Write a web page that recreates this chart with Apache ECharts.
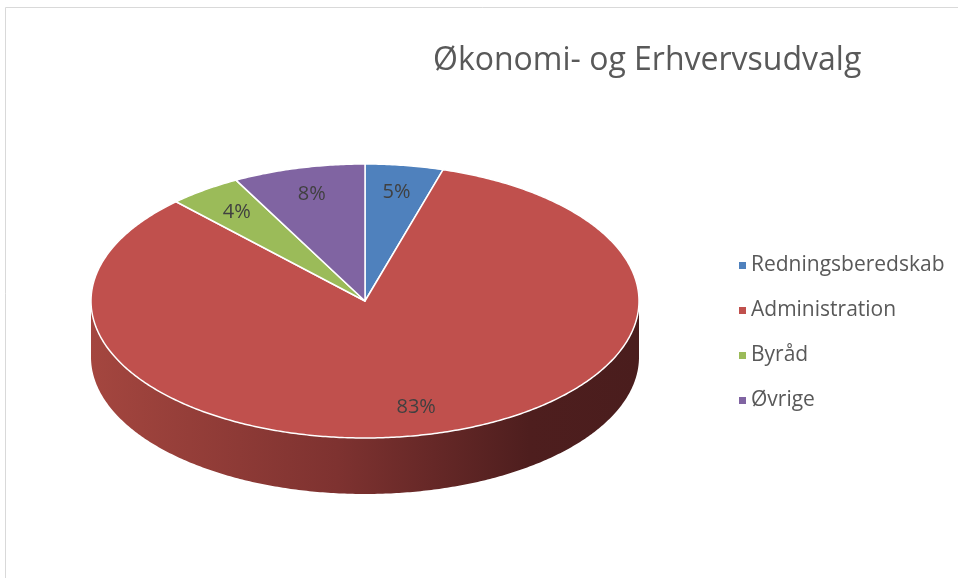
<!DOCTYPE html>
<html>
<head>
<meta charset="utf-8">
<script src="https://cdn.jsdelivr.net/npm/echarts@6/dist/echarts.min.js"></script>
<style>
  html, body { margin: 0; padding: 0; background: #fff; }
  #chart { width: 958px; height: 578px; }
</style>
</head>
<body>
<div id="chart"></div>
<script>
const titleText = "Økonomi- og Erhvervsudvalg";
const categories = ["Redningsberedskab", "Administration", "Byråd", "Øvrige"];
const values = [4.6, 83.3, 4.3, 7.8];
const colors = ["#4f81bd", "#c0504d", "#9bbb59", "#8064a2"];

// pie geometry (ellipse seen from above at an angle)
const CX = 365, CY = 301, RX = 274, RY = 137, DEPTH = 56;
const FONT = "Open Sans";

const total = values.reduce((a, b) => a + b, 0);

const pt = (t, dy) => [CX + RX * Math.sin(t), CY - RY * Math.cos(t) + (dy || 0)];

const arc = (a0, a1, dy) => {
  const n = Math.max(2, Math.ceil((a1 - a0) / 0.01));
  const out = [];
  for (let k = 0; k <= n; k++) out.push(pt(a0 + (a1 - a0) * k / n, dy));
  return out;
};

const makeRender = (i) => (params, api) => {
  const v = api.value(0);
  const before = values.slice(0, i).reduce((a, b) => a + b, 0);
  const a0 = before / total * Math.PI * 2;
  const a1 = a0 + v / total * Math.PI * 2;
  const children = [];

  // side wall, only the front half is visible
  const s = Math.max(a0, Math.PI / 2), e = Math.min(a1, Math.PI * 3 / 2);
  if (e > s) {
    children.push({
      type: "polygon",
      z2: 1,
      shape: { points: arc(s, e, 0).concat(arc(s, e, DEPTH).reverse()) },
      style: {
        fill: new echarts.graphic.LinearGradient(0, 0, 1, 0, [
          { offset: 0, color: "#a4463f" },
          { offset: 0.45, color: "#7e3230" },
          { offset: 0.8, color: "#4e1e1e" },
          { offset: 1, color: "#4a1d1d" },
        ]),
      },
    });
  }

  // top face
  children.push({
    type: "polygon",
    z2: 10,
    shape: { points: [[CX, CY]].concat(arc(a0, a1, 0)) },
    style: { fill: colors[i], stroke: "#fff", lineWidth: 1.5, lineJoin: "round" },
  });

  // percent label
  const m = (a0 + a1) / 2;
  const p = [CX + RX * 0.8 * Math.sin(m), CY - RY * 0.8 * Math.cos(m)];
  children.push({
    type: "text",
    z2: 100,
    x: p[0],
    y: p[1],
    style: {
      text: Math.round(v / total * 100) + "%",
      fill: "#404040",
      font: "20px " + FONT,
      align: "center",
      verticalAlign: "middle",
    },
  });

  return { type: "group", children };
};

const chart = echarts.init(document.getElementById("chart"));

const option = {
  animation: false,
  title: {
    text: titleText,
    left: 428,
    top: 40,
    textStyle: { fontFamily: FONT, fontSize: 32, fontWeight: "normal", color: "#595959" },
  },
  legend: {
    orient: "vertical",
    left: 734,
    top: 250,
    icon: "rect",
    itemWidth: 7,
    itemHeight: 7,
    itemGap: 24,
    data: categories,
    textStyle: { fontFamily: FONT, fontSize: 21, color: "#595959", lineHeight: 20 },
  },
  graphic: [
    {
      type: "rect",
      shape: { x: 5.5, y: 7.5, width: 1000, height: 1000 },
      style: { fill: "none", stroke: "#d9d9d9", lineWidth: 1 },
      silent: true,
    },
  ],
  series: categories.map((name, i) => ({
    type: "custom",
    name,
    coordinateSystem: "none",
    itemStyle: { color: colors[i] },
    data: [values[i]],
    renderItem: makeRender(i),
  })),
};

chart.setOption(option);
window.addEventListener("resize", () => chart.resize());
</script>
</body>
</html>
